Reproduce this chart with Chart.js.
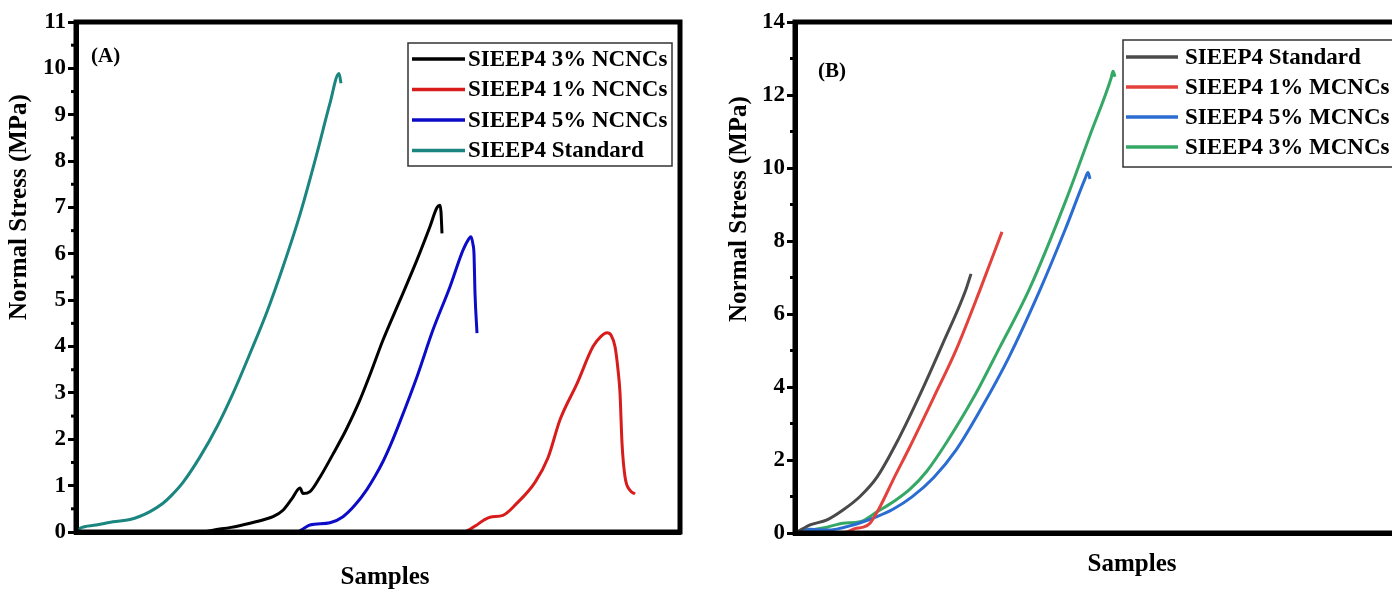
<!DOCTYPE html>
<html>
<head>
<meta charset="utf-8">
<script src="https://cdn.jsdelivr.net/npm/chart.js@4.4.1/dist/chart.umd.min.js"></script>
<style>
html, body { margin: 0; padding: 0; background: #fff; overflow: hidden; width: 1392px; height: 597px; }
.panel { position: absolute; top: 0; }
#panelA { left: 0; }
#panelB { left: 700px; }
</style>
</head>
<body>
<div class="panel" id="panelA"><canvas id="chartA" width="700" height="597"></canvas></div>
<div class="panel" id="panelB"><canvas id="chartB" width="720" height="597"></canvas></div>
<script>
// Panel (A) - NCNCs, [sample, stress MPa]
const labelsA = ["SIEEP4 3% NCNCs", "SIEEP4 1% NCNCs", "SIEEP4 5% NCNCs", "SIEEP4 Standard"];
const colorsA = ["#000000", "#d81c1c", "#0c0cc8", "#1b8580"];
const ncnc3 = [[0,0],[130,0.01],[137,0.04],[155,0.1],[174,0.19],[190,0.28],[197,0.33],[207,0.47],[216,0.72],[224,0.95],[227,0.83],[234,0.87],[245,1.22],[257,1.68],[270,2.2],[283,2.8],[295,3.45],[307,4.14],[324,5.0],[341,5.87],[354,6.59],[361,7.0],[364,7.05],[365,6.9],[366,6.44]];
const ncnc1 = [[0,0],[387,0],[394,0.06],[400,0.14],[408,0.26],[414,0.32],[427,0.36],[440,0.6],[459,1.07],[472,1.6],[484,2.42],[501,3.2],[517,4.0],[525,4.22],[531,4.3],[535,4.25],[539,4.0],[542,3.5],[544,3.0],[546,1.92],[549,1.19],[554,0.9],[559,0.82]];
const ncnc5 = [[0,0],[221,0],[228,0.08],[234,0.15],[254,0.2],[267,0.33],[279,0.58],[291,0.92],[299,1.2],[307,1.52],[315,1.9],[324,2.38],[341,3.35],[357,4.36],[374,5.29],[387,6.08],[393,6.33],[395,6.37],[397,6.2],[398,6.0],[399,5.15],[401,4.29]];
const standardA = [[0,0],[4,0.08],[20,0.15],[37,0.22],[54,0.27],[64,0.34],[74,0.44],[87,0.62],[96,0.8],[107,1.07],[124,1.62],[141,2.27],[157,2.99],[174,3.85],[191,4.75],[207,5.72],[224,6.85],[241,8.17],[254,9.25],[263,9.89],[265,9.68]];

// Panel (B) - MCNCs
const labelsB = ["SIEEP4 Standard", "SIEEP4 1% MCNCs", "SIEEP4 5% MCNCs", "SIEEP4 3% MCNCs"];
const colorsB = ["#4a4a4a", "#e2413c", "#2a6cd2", "#36a866"];
const standardB = [[0,0],[8,0.12],[15,0.22],[32,0.36],[48,0.63],[65,1.0],[82,1.53],[104,2.6],[126,3.85],[148,5.2],[170,6.6],[176,7.1]];
const mcnc1 = [[0,0],[32,0],[52,0.03],[60,0.12],[68,0.16],[75,0.27],[85,0.72],[98,1.45],[115,2.37],[139,3.73],[161,5.01],[185,6.66],[207,8.25]];
const mcnc5 = [[0,0],[15,0.1],[32,0.08],[58,0.22],[82,0.45],[98,0.65],[117,0.99],[139,1.53],[161,2.27],[187,3.45],[214,4.82],[245,6.66],[270,8.3],[290,9.7],[293,9.88],[295,9.7]];
const mcnc3 = [[0,0],[15,0.08],[32,0.16],[48,0.27],[65,0.31],[82,0.58],[98,0.85],[115,1.2],[132,1.7],[152,2.5],[179,3.73],[205,5.1],[234,6.66],[271,9.12],[295,10.9],[316,12.45],[318,12.65],[320,12.5]];

const FONT = "'Liberation Serif', 'Times New Roman', serif";

function makeDataset(label, color, pts) {
    return {
        label: label,
        data: pts.map(p => ({ x: p[0], y: p[1] })),
        borderColor: color,
        backgroundColor: color,
        borderWidth: 3,
        pointRadius: 0,
        fill: false,
        cubicInterpolationMode: 'monotone'
    };
}

// frame, minor ticks, axis titles, panel label and the boxed legend
const panelDecor = {
    id: 'panelDecor',
    afterDatasetsDraw(chart, args, opts) {
        const { ctx, chartArea: a } = chart;
        const y = chart.scales.y;
        ctx.save();
        ctx.strokeStyle = '#000';
        ctx.lineWidth = 5;
        ctx.strokeRect(a.left, a.top, a.right - a.left, a.bottom - a.top);

        ctx.lineWidth = 3;
        for (let v = y.min; v < y.max; v += opts.majorStep) {
            const py = y.getPixelForValue(v + opts.majorStep / 2);
            ctx.beginPath();
            ctx.moveTo(a.left - 5, py);
            ctx.lineTo(a.left, py);
            ctx.stroke();
        }
        ctx.restore();
    },
    afterDraw(chart, args, opts) {
        const ctx = chart.ctx;
        ctx.save();
        ctx.fillStyle = '#000';

        // y title
        ctx.font = "bold 25px " + FONT;
        ctx.textAlign = 'center';
        ctx.textBaseline = 'middle';
        ctx.save();
        ctx.translate(opts.yTitle.x, opts.yTitle.y);
        ctx.rotate(-Math.PI / 2);
        ctx.fillText("Normal Stress (MPa)", 0, 0);
        ctx.restore();

        // x title
        ctx.fillText("Samples", opts.xTitle.x, opts.xTitle.y);

        // panel label
        ctx.font = "bold 21px " + FONT;
        ctx.textAlign = 'left';
        ctx.fillText(opts.panel.text, opts.panel.x, opts.panel.y);

        // legend
        const lg = opts.legend;
        ctx.fillStyle = '#fff';
        ctx.fillRect(lg.x, lg.y, lg.w, lg.h);
        ctx.strokeStyle = '#333';
        ctx.lineWidth = 1.5;
        ctx.strokeRect(lg.x, lg.y, lg.w, lg.h);
        ctx.font = "bold 23px " + FONT;
        chart.data.datasets.forEach((ds, i) => {
            const yy = lg.y + lg.firstRow + i * lg.rowGap;
            ctx.strokeStyle = ds.borderColor;
            ctx.lineWidth = 3.5;
            ctx.beginPath();
            ctx.moveTo(lg.x + lg.lineStart, yy);
            ctx.lineTo(lg.x + lg.lineEnd, yy);
            ctx.stroke();
            ctx.fillStyle = '#000';
            ctx.fillText(ds.label, lg.x + lg.textX, yy + 1);
        });
        ctx.restore();
    }
};

function buildChart(canvasId, datasets, yMax, yStep, xMax, pad, xHeight, decor) {
    return new Chart(document.getElementById(canvasId), {
        type: 'line',
        data: { datasets: datasets },
        options: {
            responsive: false,
            animation: false,
            devicePixelRatio: 1,
            layout: { padding: pad },
            plugins: {
                legend: { display: false },
                tooltip: { enabled: false },
                panelDecor: decor
            },
            scales: {
                x: {
                    type: 'linear',
                    min: 0,
                    max: xMax,
                    ticks: { display: false },
                    grid: { display: false },
                    border: { display: true, color: '#000', width: 5 },
                    afterFit: s => { s.height = xHeight; }
                },
                y: {
                    min: 0,
                    max: yMax,
                    ticks: {
                        stepSize: yStep,
                        color: '#000',
                        padding: 2,
                        font: { family: FONT, size: 23, weight: 'bold' }
                    },
                    grid: {
                        drawOnChartArea: false,
                        drawTicks: true,
                        tickLength: 8,
                        tickWidth: 3,
                        color: '#000'
                    },
                    border: { display: true, color: '#000', width: 5 },
                    afterFit: s => { s.width = decor.yWidth; }
                }
            }
        },
        plugins: [panelDecor]
    });
}

const seriesA = [ncnc3, ncnc1, ncnc5, standardA];
const seriesB = [standardB, mcnc1, mcnc5, mcnc3];

buildChart('chartA',
    seriesA.map((s, i) => makeDataset(labelsA[i], colorsA[i], s)),
    11, 1, 604,
    { left: 0, top: 22, right: 20, bottom: 0 }, 65,
    {
        yWidth: 76,
        majorStep: 1,
        yTitle: { x: 20, y: 207 },
        xTitle: { x: 385, y: 578 },
        panel: { text: "(A)", x: 91, y: 57 },
        legend: { x: 408, y: 43, w: 264, h: 123, firstRow: 16, rowGap: 30.5, lineStart: 4, lineEnd: 57, textX: 60 }
    });

buildChart('chartB',
    seriesB.map((s, i) => makeDataset(labelsB[i], colorsB[i], s)),
    14, 2, 604,
    { left: 0, top: 22, right: 21, bottom: 0 }, 64,
    {
        yWidth: 95,
        majorStep: 2,
        yTitle: { x: 40, y: 209 },
        xTitle: { x: 432, y: 565 },
        panel: { text: "(B)", x: 118, y: 72 },
        legend: { x: 423, y: 40, w: 400, h: 127, firstRow: 17, rowGap: 30, lineStart: 3, lineEnd: 55, textX: 62 }
    });
</script>
</body>
</html>
